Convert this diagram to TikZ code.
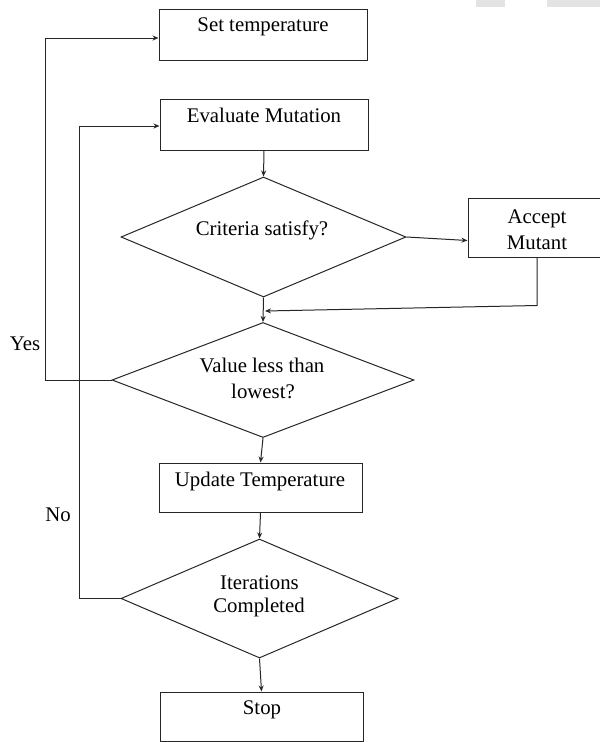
\documentclass[tikz,border=0pt]{standalone}
\usepackage{fontspec}
\setmainfont{Liberation Serif}
\usetikzlibrary{arrows.meta,shapes.geometric}
\begin{document}
\begin{tikzpicture}[x=1pt,y=-1pt,
  line width=1pt,
  every node/.style={font=\fontsize{20.8}{24}\selectfont},
  boxshape/.style={draw=black!85,rectangle,inner sep=0pt},
  dshape/.style={draw=black!85,diamond,inner sep=0pt,aspect=2},
  txt/.style={inner sep=0pt,align=center,text=black},
  arr/.style={draw=black!85,-{Stealth[length=6pt,width=5pt]}},
  ln/.style={draw=black!85}]
\useasboundingbox (0,0) rectangle (600,742);
\fill[gray!22] (476,0) rectangle (505,7);
\fill[gray!22] (547,0) rectangle (600,7);
% boxes
\node[boxshape,minimum width=208pt,minimum height=51pt] (set) at (263,34.5) {};
\node[txt] (settxt) at (263,27) {Set temperature};
\node[boxshape,minimum width=208pt,minimum height=51pt] (eval) at (264,124.5) {};
\node[txt] (evaltxt) at (264,115) {Evaluate Mutation};
\node[boxshape,minimum width=138pt,minimum height=59pt] (acc) at (537,227.5) {};
\node[txt] (acctxt1) at (537,219) {Accept};
\node[txt] (acctxt2) at (537,243) {Mutant};
\node[boxshape,minimum width=203pt,minimum height=49pt] (upd) at (260.5,487.5) {};
\node[txt] (updtxt) at (260,481) {Update Temperature};
\node[boxshape,minimum width=203pt,minimum height=49pt] (stop) at (261.5,716.5) {};
\node[txt] (stoptxt) at (262,710) {Stop};
% diamonds
\node[dshape,minimum width=285pt,minimum height=120pt] (crit) at (263.5,237) {};
\node[txt] (crittxt) at (262,230) {Criteria satisfy?};
\node[dshape,minimum width=302pt,minimum height=115pt] (val) at (263,380) {};
\node[txt] (valtxt1) at (262,365) {Value less than};
\node[txt] (valtxt2) at (263,391) {lowest?};
\node[dshape,minimum width=277pt,minimum height=119pt] (iter) at (259.5,598.5) {};
\node[txt] (itertxt1) at (259.5,583) {Iterations};
\node[txt] (itertxt2) at (259,607) {Completed};
% labels
\node[txt] (yes) at (25,344) {Yes};
\node[txt] (no) at (58,515) {No};
% coordinates
\coordinate (yl) at (45,0);
\coordinate (nl) at (79,0);
\coordinate (join) at (265,311);
% connectors
\draw[arr] (eval.south) -- (crit.north);
\draw[arr] (crit.east) -- ([yshift=-13pt]acc.west);
\draw[arr] (acc.south) -- ++(0,48) -- (join);
\draw[arr] (crit.south) -- (val.north);
\draw[arr] (val.west) -| (yl |- 0,38) -- ([yshift=-3.5pt]set.west);
\draw[arr] (val.south) -- (upd.north);
\draw[arr] (upd.south) -- (iter.north);
\draw[arr] (iter.west) -| (nl |- 0,126) -- ([yshift=-1.5pt]eval.west);
\draw[arr] (iter.south) -- (stop.north);
\end{tikzpicture}
\end{document}
